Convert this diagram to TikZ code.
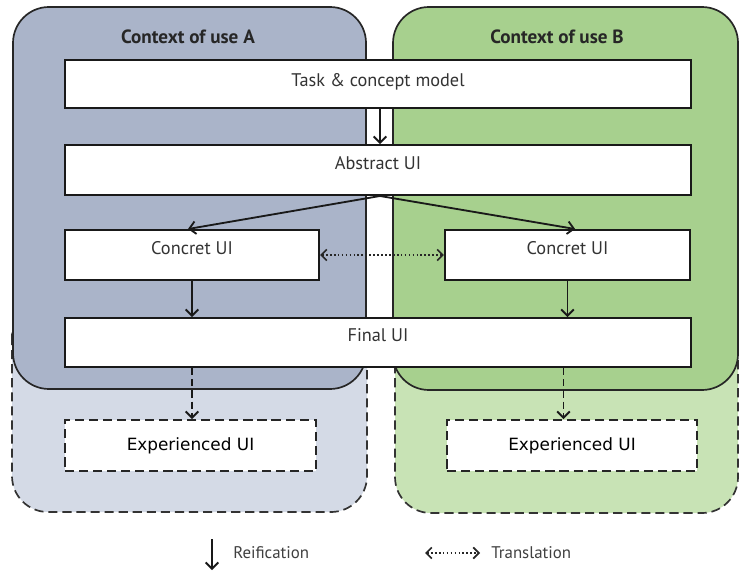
\documentclass[tikz,border=0pt]{standalone}
\usepackage{fontspec}
\usetikzlibrary{arrows.meta}
\newfontfamily\boxfont{PT Sans}
\newfontfamily\expfont{DejaVu Sans}
\definecolor{ctxA}{HTML}{AAB4C9}
\definecolor{ctxAlight}{HTML}{D4DAE6}
\definecolor{ctxB}{HTML}{A7D08E}
\definecolor{ctxBlight}{HTML}{C8E3B5}
\definecolor{lbl}{HTML}{333333}
\begin{document}
\begin{tikzpicture}[x=0.025cm,y=-0.025cm,
  ctx/.style={draw=black!85,line width=1.2pt,rounded corners=0.9cm},
  ctxext/.style={draw=black!80,line width=1.2pt,rounded corners=0.9cm,dash pattern=on 6.5pt off 3.5pt},
  title/.style={font=\boxfont\bfseries\fontsize{13.6}{15}\selectfont,text=black!85},
  uibox/.style={draw=black!90,fill=white,line width=1.4pt,inner sep=0pt},
  uilbl/.style={font=\boxfont\fontsize{13}{15}\selectfont,text=lbl,inner sep=0pt},
  expbox/.style={draw=black!85,fill=white,line width=1.4pt,inner sep=0pt,dash pattern=on 6.5pt off 3.5pt,
    font=\expfont\fontsize{12}{14}\selectfont},
  reif/.style={-{Straight Barb[length=4.5pt,width=9pt]},line width=1.3pt,draw=black!90},
  reifdash/.style={reif,dash pattern=on 5pt off 3pt},
  transl/.style={{Straight Barb[length=4pt,width=8pt]}-{Straight Barb[length=4pt,width=8pt]},
    line width=1.2pt,draw=black!85,dash pattern=on 1.2pt off 1.6pt},
  legend/.style={font=\boxfont\fontsize{12}{14}\selectfont,text=black!75,anchor=west,inner sep=0pt}]

\useasboundingbox (0,0) rectangle (740,571);
\fill[white] (0,0) rectangle (740,571);

% extended contexts (experienced level)
\draw[ctxext,fill=ctxAlight] (12,300) rectangle (367,512);
\draw[ctxext,fill=ctxBlight] (395,300) rectangle (738,513);

% contexts of use
\draw[ctx,fill=ctxA] (13,7) rectangle (366,389);
\draw[ctx,fill=ctxB] (393,7) rectangle (738,390);
\node[title] (titleA) at (188,37) {Context of use A};
\node[title] (titleB) at (557,37) {Context of use B};

% UI levels
\node[uibox,minimum width=15.65cm,minimum height=1.2cm] (task) at (378,84) {};
\node[uilbl] (taskT) at ([yshift=0.05cm]task.center) {Task \& concept model};
\node[uibox,minimum width=15.65cm,minimum height=1.25cm] (abs) at (378,170) {};
\node[uilbl] (absT) at ([yshift=0.175cm]abs.center) {Abstract UI};
\node[uibox,minimum width=6.35cm,minimum height=1.25cm] (concA) at (192,255) {};
\node[uilbl] (concAT) at ([yshift=0.175cm]concA.center) {Concret UI};
\node[uibox,minimum width=6.125cm,minimum height=1.25cm] (concB) at (567.5,255) {};
\node[uilbl] (concBT) at ([yshift=0.175cm]concB.center) {Concret UI};
\node[uibox,minimum width=15.65cm,minimum height=1.225cm] (final) at (378,342.5) {};
\node[uilbl] (finalT) at ([yshift=0.175cm]final.center) {Final UI};
\node[expbox,minimum width=6.275cm,minimum height=1.275cm] (expA) at (190.5,445.5) {Experienced UI};
\node[expbox,minimum width=6.25cm,minimum height=1.275cm] (expB) at (572,445.5) {Experienced UI};

% reification
\draw[reif] ([xshift=0.05cm]task.south) -- ([xshift=0.05cm]abs.north);
\draw[reif] ([xshift=0.05cm]abs.south) -- ([xshift=-0.1cm]concA.north);
\draw[reif] ([xshift=0.05cm]abs.south) -- ([xshift=0.19cm]concB.north);
\draw[reif] (concA.south) -- (concA.south |- final.north);
\draw[reif] (concB.south) -- (concB.south |- final.north);
\draw[reifdash] (concA.south |- final.south) -- (concA.south |- expA.north);
\draw[reifdash] ([xshift=-0.1cm]concB.south |- final.south) -- ([xshift=-0.1cm]concB.south |- expB.north);

% translation
\draw[transl] (concA.east) -- (concB.west);

% legend
\coordinate (rTop) at (212,539);
\coordinate (rBot) at (212,570);
\draw[reif] (rTop) -- (rBot);
\node[legend] (rText) at (233,553) {Reification};
\coordinate (tL) at (425,553);
\coordinate (tR) at (480,553);
\draw[transl] (tL) -- (tR);
\node[legend] (tText) at (491,553) {Translation};
\end{tikzpicture}
\end{document}
